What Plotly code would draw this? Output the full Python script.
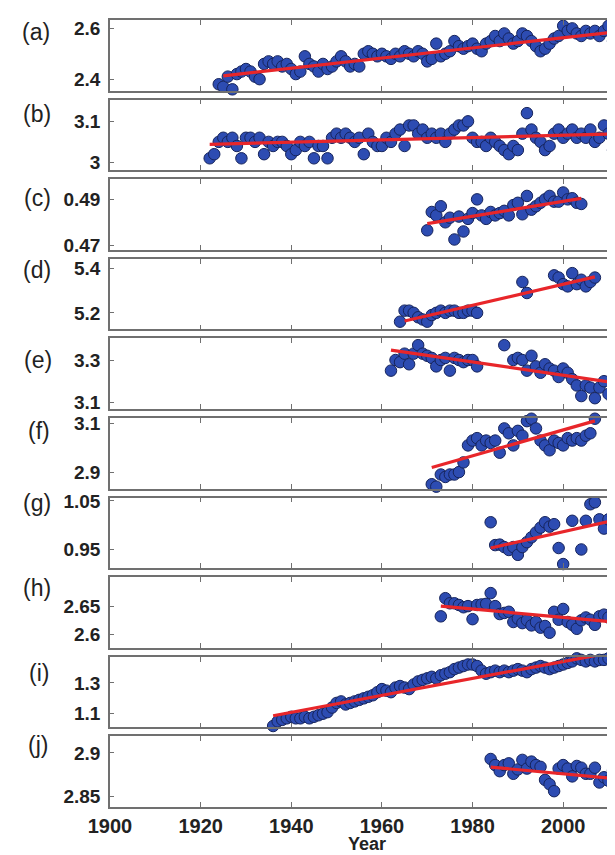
import plotly.graph_objects as go
from plotly.subplots import make_subplots

# ---------------- data ----------------
panel_labels = ["(a)", "(b)", "(c)", "(d)", "(e)", "(f)", "(g)", "(h)", "(i)", "(j)"]

years_a = list(range(1924, 2013))
vals_a = [2.38, 2.37, 2.41, 2.36, 2.42, 2.43, 2.44, 2.43, 2.41, 2.40,
          2.46, 2.47, 2.46, 2.47, 2.45, 2.46, 2.44, 2.42, 2.43, 2.49,
          2.46, 2.45, 2.43, 2.46, 2.44, 2.45, 2.47, 2.49, 2.47, 2.45,
          2.46, 2.45, 2.50, 2.51, 2.50, 2.49, 2.50, 2.49, 2.48, 2.50,
          2.49, 2.51, 2.50, 2.49, 2.51, 2.50, 2.47, 2.48, 2.54, 2.49,
          2.50, 2.51, 2.55, 2.53, 2.52, 2.53, 2.54, 2.52, 2.51, 2.54,
          2.55, 2.57, 2.55, 2.58, 2.56, 2.54, 2.55, 2.58, 2.57, 2.55,
          2.53, 2.51, 2.52, 2.54, 2.56, 2.57, 2.61, 2.59, 2.60, 2.58,
          2.57, 2.59, 2.58, 2.59, 2.57, 2.59, 2.61, 2.55, 2.56]
trend_a_x = [1925, 2012]
trend_a_y = [2.413, 2.587]

years_b = list(range(1922, 2013))
vals_b = [3.01, 3.02, 3.05, 3.06, 3.05, 3.06, 3.04, 3.01, 3.06, 3.06,
          3.05, 3.06, 3.02, 3.05, 3.04, 3.05, 3.05, 3.04, 3.02, 3.03,
          3.05, 3.04, 3.05, 3.01, 3.04, 3.04, 3.01, 3.06, 3.07, 3.06,
          3.07, 3.06, 3.05, 3.06, 3.02, 3.07, 3.05, 3.04, 3.04, 3.06,
          3.05, 3.07, 3.08, 3.04, 3.09, 3.09, 3.07, 3.08, 3.06, 3.07,
          3.06, 3.07, 3.05, 3.07, 3.08, 3.09, 3.09, 3.10, 3.06, 3.05,
          3.05, 3.04, 3.06, 3.05, 3.04, 3.03, 3.02, 3.04, 3.03, 3.07,
          3.12, 3.08, 3.06, 3.05, 3.03, 3.04, 3.07, 3.08, 3.06, 3.07,
          3.08, 3.06, 3.07, 3.06, 3.08, 3.05, 3.06, 3.09, 3.07, 3.03,
          3.08]
trend_b_x = [1922, 2014]
trend_b_y = [3.044, 3.070]

years_c = list(range(1970, 2005))
vals_c = [0.4765, 0.4845, 0.4830, 0.4870, 0.4800, 0.4820, 0.4725, 0.4825,
          0.4760, 0.4815, 0.4840, 0.4900, 0.4830, 0.4815, 0.4845, 0.4830,
          0.4840, 0.4850, 0.4830, 0.4875, 0.4885, 0.4835, 0.4915, 0.4855,
          0.4870, 0.4885, 0.4900, 0.4915, 0.4890, 0.4890, 0.4930, 0.4900,
          0.4905, 0.4885, 0.4880]
trend_c_x = [1970, 2004]
trend_c_y = [0.4794, 0.4904]

years_d = [1964, 1965, 1966, 1967, 1968, 1969, 1970, 1971, 1972, 1973,
           1974, 1975, 1976, 1977, 1978, 1979, 1980, 1981, 1991, 1992,
           1998, 1999, 2000, 2001, 2002, 2003, 2004, 2005, 2006, 2007]
vals_d = [5.16, 5.21, 5.21, 5.20, 5.18, 5.17, 5.16, 5.19, 5.20, 5.21,
          5.20, 5.21, 5.21, 5.20, 5.20, 5.21, 5.21, 5.20, 5.34, 5.29,
          5.37, 5.36, 5.33, 5.32, 5.38, 5.33, 5.35, 5.32, 5.34, 5.36]
trend_d_x = [1965, 2007]
trend_d_y = [5.163, 5.363]

years_e = [1962, 1963, 1964, 1965, 1966, 1967, 1968, 1969, 1970, 1971,
           1972, 1973, 1974, 1975, 1976, 1977, 1978, 1979, 1980, 1981,
           1987, 1989, 1990, 1991, 1992, 1993, 1994, 1995, 1996, 1997,
           1998, 1999, 2000, 2001, 2002, 2003, 2004, 2005, 2006, 2007,
           2008, 2009, 2010, 2011, 2012]
vals_e = [3.25, 3.30, 3.29, 3.33, 3.28, 3.33, 3.37, 3.33, 3.32, 3.31,
          3.27, 3.30, 3.31, 3.25, 3.31, 3.30, 3.29, 3.30, 3.30, 3.27,
          3.37, 3.30, 3.31, 3.30, 3.25, 3.32, 3.27, 3.24, 3.28, 3.26,
          3.25, 3.22, 3.26, 3.24, 3.21, 3.18, 3.13, 3.18, 3.17, 3.12,
          3.17, 3.20, 3.14, 3.11, 3.09]
trend_e_x = [1962, 2014]
trend_e_y = [3.347, 3.185]

years_f = list(range(1971, 2008))
vals_f = [2.85, 2.84, 2.89, 2.88, 2.89, 2.89, 2.90, 2.94, 3.01, 3.03,
          3.04, 3.01, 3.03, 3.02, 3.03, 2.98, 3.08, 3.06, 3.01, 3.07,
          3.05, 3.11, 3.12, 3.08, 3.03, 3.01, 2.99, 3.03, 3.02, 3.01,
          3.04, 3.03, 3.04, 3.03, 3.05, 3.06, 3.12]
trend_f_x = [1971, 2007]
trend_f_y = [2.919, 3.111]

years_g = [1984, 1985, 1986, 1987, 1988, 1989, 1990, 1991, 1992, 1993,
           1994, 1995, 1996, 1997, 1998, 1999, 2000, 2002, 2004, 2005,
           2006, 2007, 2008, 2009, 2010, 2011, 2012]
vals_g = [1.006, 0.959, 0.960, 0.955, 0.949, 0.955, 0.939, 0.955, 0.965, 0.975,
          0.985, 0.995, 1.006, 0.997, 1.002, 0.953, 0.920, 1.009, 0.950, 1.009,
          1.043, 1.047, 1.012, 0.993, 1.012, 1.018, 1.015]
trend_g_x = [1984, 2012]
trend_g_y = [0.953, 1.0115]

years_h = list(range(1973, 2013))
vals_h = [2.632, 2.664, 2.655, 2.655, 2.652, 2.648, 2.650, 2.627, 2.652, 2.653,
          2.654, 2.673, 2.650, 2.636, 2.638, 2.640, 2.622, 2.628, 2.620, 2.625,
          2.616, 2.622, 2.612, 2.615, 2.603, 2.640, 2.626, 2.645, 2.622, 2.617,
          2.610, 2.625, 2.630, 2.626, 2.617, 2.632, 2.635, 2.630, 2.642, 2.656]
trend_h_x = [1973, 2014]
trend_h_y = [2.650, 2.620]

years_i = list(range(1936, 2013))
vals_i = [1.02, 1.05, 1.06, 1.07, 1.08, 1.07, 1.07, 1.08, 1.07, 1.08,
          1.09, 1.10, 1.11, 1.14, 1.17, 1.18, 1.16, 1.17, 1.18, 1.19,
          1.20, 1.21, 1.22, 1.24, 1.26, 1.25, 1.24, 1.27, 1.28, 1.27,
          1.26, 1.29, 1.31, 1.32, 1.33, 1.34, 1.33, 1.35, 1.36, 1.37,
          1.39, 1.40, 1.41, 1.42, 1.42, 1.41, 1.38, 1.36, 1.37, 1.38,
          1.37, 1.38, 1.37, 1.38, 1.39, 1.38, 1.37, 1.39, 1.40, 1.41,
          1.40, 1.39, 1.40, 1.41, 1.42, 1.43, 1.44, 1.46, 1.45, 1.44,
          1.45, 1.44, 1.45, 1.45, 1.46, 1.45, 1.46]
trend_i_x = [1936, 2012]
trend_i_y = [1.087, 1.505]

years_j = list(range(1984, 2012))
vals_j = [2.893, 2.886, 2.879, 2.886, 2.888, 2.876, 2.881, 2.892, 2.882, 2.890,
          2.886, 2.884, 2.869, 2.864, 2.856, 2.882, 2.886, 2.882, 2.873, 2.885,
          2.883, 2.876, 2.876, 2.883, 2.866, 2.872, 2.868, 2.880]
trend_j_x = [1984, 2011]
trend_j_y = [2.8836, 2.8707]

y_ranges = [[2.355, 2.633], [2.981, 3.153], [0.4680, 0.4988], [5.125, 5.445],
            [3.069, 3.402], [2.832, 3.123], [0.9115, 1.0567], [2.5765, 2.701],
            [1.011, 1.47], [2.8378, 2.919]]
y_ticks = [[2.4, 2.6], [3, 3.1], [0.47, 0.49], [5.2, 5.4], [3.1, 3.3],
           [2.9, 3.1], [0.95, 1.05], [2.6, 2.65], [1.1, 1.3], [2.85, 2.9]]
y_ticktext = [["2.4", "2.6"], ["3", "3.1"], ["0.47", "0.49"], ["5.2", "5.4"],
              ["3.1", "3.3"], ["2.9", "3.1"], ["0.95", "1.05"], ["2.6", "2.65"],
              ["1.1", "1.3"], ["2.85", "2.9"]]
x_ticks = [1900, 1920, 1940, 1960, 1980, 2000]

series = [
    (years_a, vals_a, trend_a_x, trend_a_y),
    (years_b, vals_b, trend_b_x, trend_b_y),
    (years_c, vals_c, trend_c_x, trend_c_y),
    (years_d, vals_d, trend_d_x, trend_d_y),
    (years_e, vals_e, trend_e_x, trend_e_y),
    (years_f, vals_f, trend_f_x, trend_f_y),
    (years_g, vals_g, trend_g_x, trend_g_y),
    (years_h, vals_h, trend_h_x, trend_h_y),
    (years_i, vals_i, trend_i_x, trend_i_y),
    (years_j, vals_j, trend_j_x, trend_j_y),
]

# ---------------- figure ----------------
W, H = 615, 855
ML, MR, MT, MB = 102, 0, 12, 56
plot_h = H - MT - MB
gap_px = 9.0

fig = make_subplots(rows=10, cols=1, shared_xaxes=True,
                    vertical_spacing=gap_px / plot_h)

blue_fill = "#2d4cb2"
blue_edge = "#16245c"
red = "#e8262a"
axis_col = "#707070"
txt_col = "#222222"

# markers first, trend lines on top
for k, (xs, ys, tx, ty) in enumerate(series):
    fig.add_trace(go.Scatter(x=xs, y=ys, mode="markers", cliponaxis=False,
                             marker=dict(size=11.5, color=blue_fill,
                                         line=dict(color=blue_edge, width=1)),
                             showlegend=False), row=k + 1, col=1)
for k, (xs, ys, tx, ty) in enumerate(series):
    fig.add_trace(go.Scatter(x=tx, y=ty, mode="lines",
                             line=dict(color=red, width=3.2),
                             showlegend=False, hoverinfo="skip"), row=k + 1, col=1)

for k in range(10):
    r = k + 1
    fig.update_yaxes(row=r, col=1, range=y_ranges[k], tickvals=y_ticks[k],
                     ticktext=y_ticktext[k], ticks="inside", ticklen=4,
                     tickcolor=axis_col, showline=True, linecolor=axis_col,
                     linewidth=1.6, mirror=False, showgrid=False, zeroline=False,
                     tickfont=dict(family="Liberation Sans", size=19, color=txt_col,
                                   weight="bold"),
                     ticklabelstandoff=4)
    fig.update_xaxes(row=r, col=1, range=[1900, 2013.2], tickvals=x_ticks,
                     ticks="inside", ticklen=5, tickcolor=axis_col,
                     showline=True, linecolor=axis_col, linewidth=1.6,
                     mirror="ticks", showgrid=False, zeroline=False,
                     tickfont=dict(family="Liberation Sans", size=20, color=txt_col,
                                   weight="bold"))

# x-axis title
fig.add_annotation(text="<b>Year</b>", xref="paper", yref="paper",
                   x=0.5, y=(H - MB - 836) / plot_h, xanchor="center",
                   yanchor="middle", showarrow=False,
                   font=dict(family="Liberation Sans", size=18, color=txt_col))

# panel labels
label_y_px = [24, 106, 190, 262, 352, 423, 495, 580, 665, 737]
label_x_px = [28, 29, 29, 29, 30, 31, 29, 29, 31, 30]
for lab, ypx, xpx in zip(panel_labels, label_y_px, label_x_px):
    fig.add_annotation(text=lab, xref="paper", yref="paper",
                       x=(xpx - ML) / (W - ML - MR), y=(H - MB - ypx) / plot_h,
                       xanchor="center", yanchor="middle", showarrow=False,
                       font=dict(family="Liberation Sans", size=23, color=txt_col))

fig.update_layout(width=W, height=H, margin=dict(l=ML, r=MR, t=MT, b=MB),
                  paper_bgcolor="white", plot_bgcolor="white",
                  showlegend=False, font=dict(family="Liberation Sans"))

fig.write_html("out.html")
